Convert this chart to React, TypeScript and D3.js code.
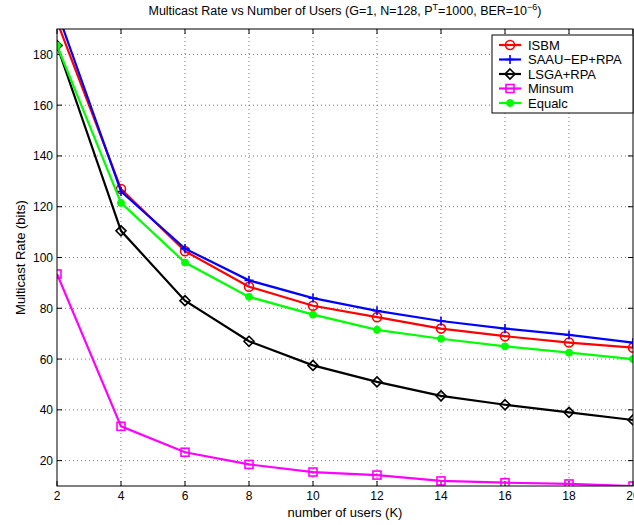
import React from 'react';
import * as d3 from 'd3';

// number of users K
const users = [2, 4, 6, 8, 10, 12, 14, 16, 18, 20];

// multicast rate (bits) per scheme
const isbm = [193, 127, 102.5, 88.5, 81, 76.5, 72, 69, 66.5, 64.5];
const saau = [197, 126, 103.5, 91, 84, 79, 75, 72, 69.5, 66.5];
const lsga = [183.5, 110.5, 83, 67, 57.5, 51, 45.5, 42, 39, 36];
const minsum = [93.5, 33.5, 23.3, 18.5, 15.5, 14.3, 12, 11.3, 10.8, 10];
const equalc = [183.5, 121.5, 98, 84.5, 77.5, 71.5, 68, 65, 62.5, 60];

const xTicks = [2, 4, 6, 8, 10, 12, 14, 16, 18, 20];
const yTicks = [20, 40, 60, 80, 100, 120, 140, 160, 180];

const series = [
  { name: 'ISBM', values: isbm, color: '#ff0000', marker: 'circle' },
  { name: 'SAAU\u2212EP+RPA', values: saau, color: '#0000ff', marker: 'plus' },
  { name: 'LSGA+RPA', values: lsga, color: '#000000', marker: 'diamond' },
  { name: 'Minsum', values: minsum, color: '#ff00ff', marker: 'square' },
  { name: 'Equalc', values: equalc, color: '#00ff00', marker: 'dot' },
];

const W = 634;
const H = 525;
const margin = { top: 29, right: 1, bottom: 39, left: 57 };
const font = '"Liberation Sans", Arial, Helvetica, sans-serif';

const Marker = ({ type, x, y, color }) => {
  if (type === 'circle')
    return <circle cx={x} cy={y} r={4.5} fill="none" stroke={color} strokeWidth={1.6} />;
  if (type === 'plus')
    return (
      <path d={`M${x - 4.5},${y}H${x + 4.5}M${x},${y - 4.5}V${y + 4.5}`} stroke={color} strokeWidth={1.6} />
    );
  if (type === 'diamond')
    return (
      <path d={`M${x},${y - 5}L${x + 5},${y}L${x},${y + 5}L${x - 5},${y}Z`} fill="none" stroke={color} strokeWidth={1.6} />
    );
  if (type === 'square')
    return <rect x={x - 4} y={y - 4} width={8} height={8} fill="none" stroke={color} strokeWidth={1.6} />;
  return <circle cx={x} cy={y} r={3.5} fill={color} stroke={color} strokeWidth={1} />;
};

export default function App() {
  const x = d3.scaleLinear().domain([2, 20]).range([margin.left, W - margin.right]);
  const y = d3.scaleLinear().domain([10, 190]).range([H - margin.bottom, margin.top]);
  const x0 = margin.left;
  const x1 = W - margin.right;
  const y0 = H - margin.bottom;
  const y1 = margin.top;

  const line = d3
    .line<number>()
    .x((_, i) => x(users[i]))
    .y((d) => y(d));

  const lg = { x: 492, y: 35, w: 141, h: 78 };

  return (
    <svg
      width={W}
      height={H}
      style={{ position: 'absolute', left: 0, top: 0, background: '#fff' }}
      fontFamily={font}
    >
      <defs>
        <clipPath id="plot">
          <rect x={x0} y={y1} width={x1 - x0} height={y0 - y1} />
        </clipPath>
      </defs>
      <rect x={0} y={0} width={W} height={H} fill="#fff" />

      {/* grid */}
      {xTicks.slice(1, -1).map((t) => (
        <line key={'gx' + t} x1={x(t)} x2={x(t)} y1={y0} y2={y1} stroke="#555" strokeWidth={0.8} strokeDasharray="1,3" />
      ))}
      {yTicks.map((t) => (
        <line key={'gy' + t} x1={x0} x2={x1} y1={y(t)} y2={y(t)} stroke="#555" strokeWidth={0.8} strokeDasharray="1,3" />
      ))}

      {/* ticks */}
      {xTicks.map((t) => (
        <g key={'tx' + t}>
          <line x1={x(t)} x2={x(t)} y1={y0} y2={y0 - 5} stroke="#000" />
          <line x1={x(t)} x2={x(t)} y1={y1} y2={y1 + 5} stroke="#000" />
          <text x={x(t)} y={y0 + 14} fontSize={12} textAnchor="middle" fill="#000">
            {t}
          </text>
        </g>
      ))}
      {yTicks.map((t) => (
        <g key={'ty' + t}>
          <line x1={x0} x2={x0 + 5} y1={y(t)} y2={y(t)} stroke="#000" />
          <line x1={x1} x2={x1 - 5} y1={y(t)} y2={y(t)} stroke="#000" />
          <text x={x0 - 4} y={y(t) + 4.5} fontSize={12} textAnchor="end" fill="#000">
            {t}
          </text>
        </g>
      ))}

      {/* series */}
      <g clipPath="url(#plot)">
        {series.map((s) => (
          <g key={s.name}>
            <path d={line(s.values) || ''} fill="none" stroke={s.color} strokeWidth={2.2} />
            {s.values.map((v, i) => (
              <Marker key={i} type={s.marker} x={x(users[i])} y={y(v)} color={s.color} />
            ))}
          </g>
        ))}
      </g>

      {/* axes box */}
      <rect x={x0} y={y1} width={x1 - x0} height={y0 - y1} fill="none" stroke="#000" strokeWidth={1} />

      {/* labels */}
      <text x={(x0 + x1) / 2} y={15} fontSize={12.5} textAnchor="middle" fill="#000">
        Multicast Rate vs Number of Users (G=1, N=128, P
        <tspan dy={-5} fontSize={9}>T</tspan>
        <tspan dy={5}>=1000, BER=10</tspan>
        <tspan dy={-5} fontSize={9}>{'\u22126'}</tspan>
        <tspan dy={5}>)</tspan>
      </text>
      <text x={(x0 + x1) / 2} y={517} fontSize={13} textAnchor="middle" fill="#000">
        number of users (K)
      </text>
      <text
        transform={`translate(24.5,${(y0 + y1) / 2}) rotate(-90)`}
        fontSize={13}
        textAnchor="middle"
        fill="#000"
      >
        Multicast Rate (bits)
      </text>

      {/* legend */}
      <rect x={lg.x} y={lg.y} width={lg.w} height={lg.h} fill="#fff" stroke="#000" strokeWidth={1} />
      {series.map((s, i) => {
        const ly = lg.y + 10 + i * 14.5;
        return (
          <g key={'lg' + s.name}>
            <line x1={lg.x + 7} x2={lg.x + 29} y1={ly} y2={ly} stroke={s.color} strokeWidth={2.2} />
            <Marker type={s.marker} x={lg.x + 18} y={ly} color={s.color} />
            <text x={lg.x + 36} y={ly + 4.5} fontSize={13} fill="#000">
              {s.name}
            </text>
          </g>
        );
      })}
    </svg>
  );
}
